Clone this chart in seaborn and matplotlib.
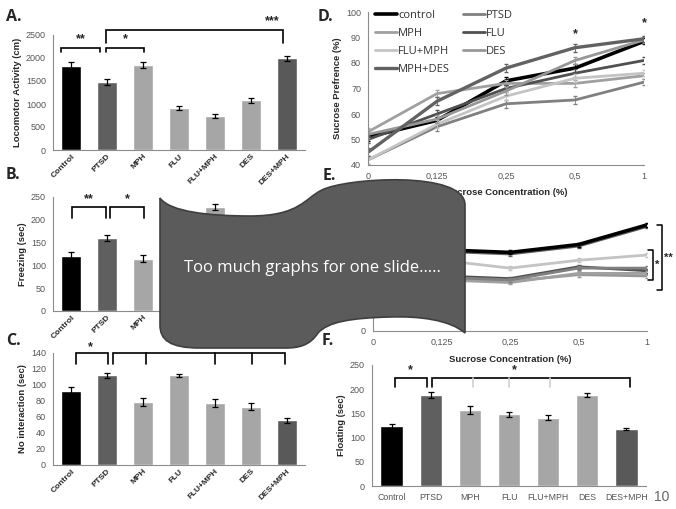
import numpy as np
import pandas as pd
import matplotlib.pyplot as plt
import seaborn as sns
from matplotlib.path import Path
from matplotlib.patches import PathPatch

sns.set_style('white')
plt.rcParams['font.family'] = ['Liberation Sans', 'DejaVu Sans']

# bar panels (A, B, C, F)
groups = ['Control', 'PTSD', 'MPH', 'FLU', 'FLU+MPH', 'DES', 'DES+MPH']
bar_colors = ['#000000', '#5f5f5f', '#a6a6a6', '#a6a6a6', '#a6a6a6', '#a6a6a6', '#595959']

loco = [1830, 1480, 1850, 920, 740, 1080, 1990]
loco_err = [90, 60, 60, 40, 50, 60, 60]
freezing = [120, 160, 115, 190, 228, 170, 130]   # FLU, DES, DES+MPH hidden under the banner
freezing_err = [9, 7, 8, 8, 7, 8, 8]
no_inter = [93, 112, 79, 112, 78, 73, 56]
no_inter_err = [4, 3, 5, 2, 5, 4, 3]
floating = [123, 188, 157, 148, 141, 188, 118]
floating_err = [5, 6, 8, 5, 5, 5, 2]

# line panels (D, E)
conc_labels = ['0', '0,125', '0,25', '0,5', '1']
line_groups = ['control', 'PTSD', 'MPH', 'FLU', 'FLU+MPH', 'DES', 'MPH+DES']
line_colors = ['#000000', '#808080', '#a0a0a0', '#505050', '#c4c4c4', '#979797', '#626262']
line_widths = [2.6, 2.0, 2.0, 2.0, 2.0, 2.0, 2.4]

pref_control = [51, 57.5, 73, 78, 88.5]
pref_ptsd = [42, 55, 64, 65.5, 72.5]
pref_mph = [53, 68, 72, 72, 75]
pref_flu = [50, 60, 70, 76, 81]
pref_flu_mph = [42, 56, 67, 74, 76]
pref_des = [52, 58, 69, 81, 89]
pref_mph_des = [45, 65, 78, 86, 89.5]
pref_err = [1.5, 1.5, 1.5, 1.5, 1.2]

e_control = [63, 62, 60, 66, 81]
e_ptsd = [42, 41, 39, 48, 48]
e_mph = [40, 39, 37, 44, 44]
e_flu = [43, 42, 40, 49, 46]
e_flu_mph = [55, 54, 48, 54, 58]
e_des = [41, 40, 38, 43, 42]
e_mph_des = [62, 61, 59, 65, 80]
e_err = [1.5, 1.5, 1.5, 1.5, 1.5]

W, H = 676, 509
fig = plt.figure(figsize=(W / 100, H / 100), dpi=100)
fig.patch.set_facecolor('white')

AX_GRAY = '#8c8c8c'
TXT_GRAY = '#555555'


def add_ax(l, t, r, b):
    return fig.add_axes([l / W, 1 - b / H, (r - l) / W, (b - t) / H])


def style_axes(ax):
    sns.despine(ax=ax)
    for s in ['left', 'bottom']:
        ax.spines[s].set_color(AX_GRAY)
        ax.spines[s].set_linewidth(0.8)
    ax.tick_params(axis='y', length=3, width=0.7, color=AX_GRAY, labelcolor=TXT_GRAY, labelsize=6.5, pad=2)
    ax.tick_params(axis='x', length=3, width=0.7, color=AX_GRAY, labelsize=6.5, pad=2)
    ax.set_facecolor('none')


def bar_panel(ax, vals, errs, ylabel, ymax, step, rotate=True):
    sns.barplot(x=groups, y=vals, hue=groups, palette=bar_colors, legend=False,
                width=0.57, saturation=1, ax=ax)
    ax.errorbar(np.arange(len(groups)), vals, yerr=errs, fmt='none', ecolor='black',
                elinewidth=0.9, capsize=2, capthick=0.9)
    ax.set_ylim(0, ymax)
    ax.set_yticks(np.arange(0, ymax + 1, step))
    ax.set_xlim(-0.5, 6.5)
    style_axes(ax)
    ax.set_xlabel('')
    ax.set_ylabel(ylabel, fontsize=6.8, fontweight='bold', labelpad=3)
    ax.set_xticks(np.arange(-0.5, 7, 1), minor=True)
    ax.tick_params(axis='x', which='minor', length=3, width=0.7, color=AX_GRAY)
    ax.tick_params(axis='x', which='major', length=0)
    ax.set_xticks(range(len(groups)))
    if rotate:
        ax.set_xticklabels(groups, rotation=45, ha='right', rotation_mode='anchor',
                           fontsize=6, fontweight='bold')
    else:
        ax.set_xticklabels(groups, fontsize=6.3, color=TXT_GRAY)
        ax.tick_params(axis='x', which='major', pad=5)


def bracket(ax, x1, x2, y_top, y_end, text=None, tx=None, ty=None, drops=(),
            color='black', drop_color=None, lw=1.2):
    ax.plot([x1, x1, x2, x2], [y_end, y_top, y_top, y_end], color=color, lw=lw,
            clip_on=False, solid_joinstyle='miter')
    for d in drops:
        ax.plot([d, d], [y_top, y_end], color=drop_color or color, lw=lw, clip_on=False)
    if text:
        ax.text((x1 + x2) / 2 if tx is None else tx, ty, text, ha='center', va='center',
                fontsize=9, fontweight='bold', clip_on=False)


def panel_letter(x, y, s):
    fig.text(x / W, 1 - y / H, s, fontsize=11.5, fontweight='bold',
             family=['Open Sans', 'DejaVu Sans'], va='center', ha='left')


# A. locomotor activity
ax_a = add_ax(53, 35, 305, 150)
bar_panel(ax_a, loco, loco_err, 'Locomotor Activity (cm)', 2500, 500)
bracket(ax_a, -0.28, 0.8, 2220, 2120, '**', ty=2420)
bracket(ax_a, 0.97, 2.03, 2220, 2120, '*', ty=2420)
bracket(ax_a, 0.97, 5.9, 2610, 2330, '***', tx=5.6, ty=2800)

# B. freezing
ax_b = add_ax(53, 197, 305, 311)
bar_panel(ax_b, freezing, freezing_err, 'Freezing (sec)', 250, 50)
bracket(ax_b, 0.03, 0.97, 228, 205, '**', ty=245)
bracket(ax_b, 1.08, 2.03, 228, 205, '*', ty=245)

# C. social interaction
ax_c = add_ax(53, 353, 305, 465)
bar_panel(ax_c, no_inter, no_inter_err, 'No interaction (sec)', 140, 20)
bracket(ax_c, 0.14, 1.03, 140, 126, '*', tx=0.55, ty=147)
bracket(ax_c, 1.17, 5.94, 140, 126, drops=(2.08, 4.0, 5.03))

# F. forced swim
ax_f = add_ax(372, 365, 646, 486)
bar_panel(ax_f, floating, floating_err, 'Floating (sec)', 250, 50, rotate=False)
bracket(ax_f, 0.08, 0.9, 223, 205, '*', ty=240)
bracket(ax_f, 1.03, 6.1, 223, 205, '*', tx=3.15, ty=240, drops=(2.07, 3.0, 4.05),
        drop_color='#d0d0d0')

# D. sucrose preference
pref_series = [pref_control, pref_ptsd, pref_mph, pref_flu, pref_flu_mph, pref_des, pref_mph_des]
x = np.arange(len(conc_labels))
ax_d = add_ax(368, 12, 644, 165)
handles = {}
for name, vals, col, lw in zip(line_groups, pref_series, line_colors, line_widths):
    ax_d.errorbar(x, vals, yerr=pref_err, fmt='none', ecolor=col, elinewidth=0.6, capsize=1.5)
    sns.lineplot(x=x, y=vals, color=col, lw=lw, ax=ax_d, label=name)
    handles[name] = ax_d.lines[-1]
ax_d.set_xlim(0, 4)
ax_d.set_ylim(40, 100)
ax_d.set_yticks(range(40, 101, 10))
ax_d.set_xticks(x)
ax_d.set_xticklabels(conc_labels, color=TXT_GRAY)
style_axes(ax_d)
ax_d.set_ylabel('Sucrose Prefrence (%)', fontsize=6.8, fontweight='bold', labelpad=3)
ax_d.set_xlabel('Sucrose Concentration (%)', fontsize=6.8, fontweight='bold', labelpad=5)
order = ['control', 'MPH', 'FLU+MPH', 'MPH+DES', 'PTSD', 'FLU', 'DES']
leg = ax_d.legend([handles[k] for k in order], order, ncol=2, loc='upper left',
                  bbox_to_anchor=(0.01, 1.04), frameon=False, handlelength=2.0,
                  handletextpad=0.05, columnspacing=1.2, labelspacing=0.62,
                  borderaxespad=0.0, prop={'family': ['Open Sans', 'DejaVu Sans'], 'size': 8})
for t in leg.get_texts():
    t.set_color('#333333')
ax_d.text(3, 91.5, '*', ha='center', va='center', fontsize=9, fontweight='bold')
ax_d.text(4, 95.5, '*', ha='center', va='center', fontsize=9, fontweight='bold')

# E.
e_series = [e_control, e_ptsd, e_mph, e_flu, e_flu_mph, e_des, e_mph_des]
ax_e = add_ax(373, 200, 647, 331)
for name, vals, col, lw in reversed(list(zip(line_groups, e_series, line_colors, line_widths))):
    ax_e.errorbar(x, vals, yerr=e_err, fmt='none', ecolor=col, elinewidth=0.6, capsize=1.5)
    sns.lineplot(x=x, y=vals, color=col, lw=lw, ax=ax_e)
ax_e.set_xlim(0, 4)
ax_e.set_ylim(0, 100)
ax_e.set_yticks(range(0, 101, 20))
ax_e.set_xticks(x)
ax_e.set_xticklabels(conc_labels, color=TXT_GRAY)
style_axes(ax_e)
ax_e.set_xlabel('Sucrose Concentration (%)', fontsize=6.8, fontweight='bold', labelpad=6)
ax_e.set_ylabel('')
# significance brackets on the right
for xb, y1, y2, s in [(4.22, 81, 31, '**'), (4.09, 62, 39, '*')]:
    ax_e.plot([xb - 0.07, xb, xb, xb - 0.07], [y1, y1, y2, y2], color='black', lw=1.1, clip_on=False)
    ax_e.text(xb + 0.03, (y1 + y2) / 2, s, ha='left', va='center', fontsize=8,
              fontweight='bold', clip_on=False)

panel_letter(6, 17, 'A.')
panel_letter(6, 175, 'B.')
panel_letter(6, 341, 'C.')
panel_letter(318, 17, 'D.')
panel_letter(323, 176, 'E.')
panel_letter(322, 341, 'F.')

# banner covering the middle
ov = fig.add_axes([0, 0, 1, 1])
ov.set_xlim(0, W)
ov.set_ylim(H, 0)
ov.axis('off')
ov.set_zorder(10)
verts = [
    (160, 198),
    (170, 212), (210, 216), (250, 216),
    (300, 216), (305, 198), (322, 190),
    (345, 178), (465, 170), (465, 205),
    (465, 333),
    (450, 320), (420, 316), (390, 317),
    (350, 318), (328, 322), (318, 333),
    (310, 345), (300, 348), (285, 348),
    (200, 348),
    (170, 348), (160, 340), (160, 325),
    (160, 198),
]
codes = ([Path.MOVETO] + [Path.CURVE4] * 9 + [Path.LINETO] + [Path.CURVE4] * 9
         + [Path.LINETO] + [Path.CURVE4] * 3 + [Path.CLOSEPOLY])
ov.add_patch(PathPatch(Path(verts, codes), facecolor='#5b5b5b', edgecolor='#3f3f3f', lw=1.2))
ov.text(312, 268, 'Too much graphs for one slide…..', ha='center', va='center',
        color='white', fontsize=12, family=['Open Sans', 'DejaVu Sans'])

fig.text(662 / W, 1 - 497 / H, '10', ha='center', va='center', fontsize=10, color='#666666')

fig.savefig('out.png', dpi=100)
